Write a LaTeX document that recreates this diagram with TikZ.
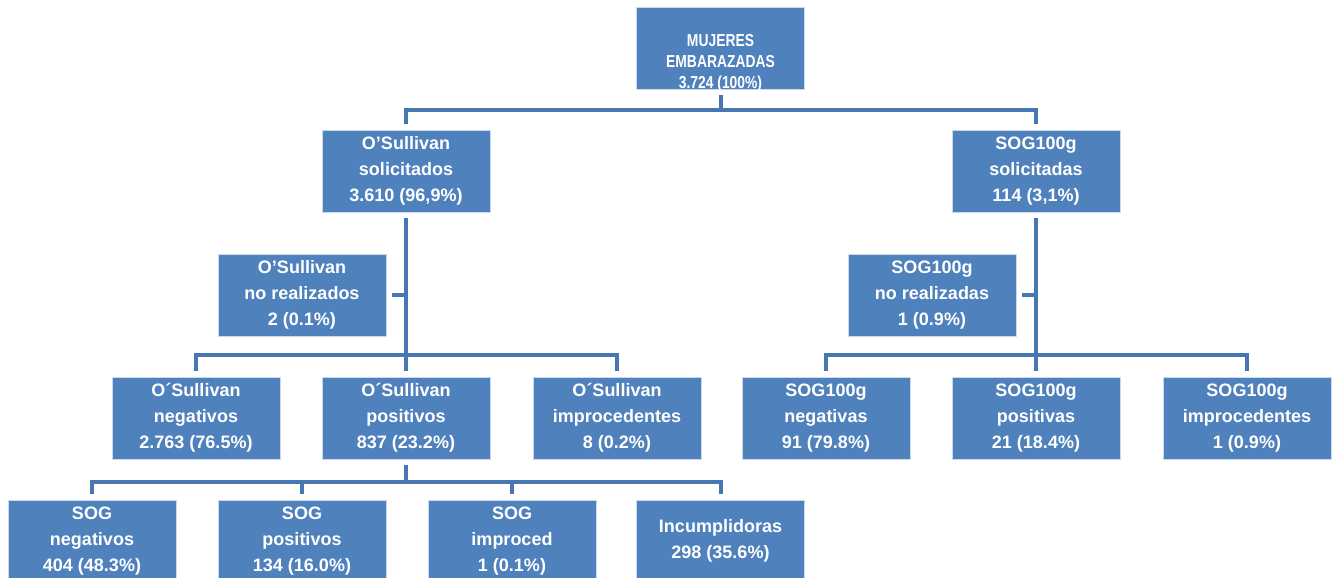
\documentclass[tikz,border=0pt]{standalone}
\usepackage{fontspec}
\setmainfont{Liberation Sans}
\usepackage{xcolor}
\usetikzlibrary{positioning,calc}

\definecolor{boxblue}{HTML}{4F81BD}
\definecolor{lineblue}{HTML}{4677B3}
\newcommand{\boxfont}{\bfseries\fontsize{13.5}{19.5}\selectfont}
\newcommand{\topfont}{\bfseries\fontsize{13}{15.5}\selectfont}

\tikzset{
  box/.style={rectangle, fill=boxblue, draw=white!70!boxblue, line width=0.5pt,
    minimum width=126pt, minimum height=61.5pt, inner sep=2pt,
    text=white, align=center, font=\boxfont},
  conn/.style={draw=lineblue, line width=3pt, line join=miter},
  gap/.style={shorten <=4pt, shorten >=4pt}
}

\begin{document}
\begin{tikzpicture}[x=0.75pt, y=-0.75pt]
  \useasboundingbox (0,0) rectangle (1336,578);
  \clip (0,0) rectangle (1336,578);

  % Level 0
  \node[box] (muj) at (720.5,48) {\raisebox{-14.5pt}[0pt][0pt]{\topfont
    \scalebox{0.8}[1]{\begin{tabular}{@{}c@{}}MUJERES\\EMBARAZADAS\\3.724 (100\%)\end{tabular}}}};

  % Level 1
  \node[box] (ossol) at (406,171) {O’Sullivan\\solicitados\\3.610 (96,9\%)};
  \node[box] (sgsol) at (1036,171) {SOG100g\\solicitadas\\114 (3,1\%)};

  % Not done
  \node[box] (osnr) at (302,295) {O’Sullivan\\no realizados\\2 (0.1\%)};
  \node[box] (sgnr) at (932,295) {SOG100g\\no realizadas\\1 (0.9\%)};

  % Level 2
  \node[box] (osneg) at (196,418) {O´Sullivan\\negativos\\2.763 (76.5\%)};
  \node[box] (ospos) at (406,418) {O´Sullivan\\positivos\\837 (23.2\%)};
  \node[box] (osimp) at (617,418) {O´Sullivan\\improcedentes\\8 (0.2\%)};
  \node[box] (sgneg) at (826,418) {SOG100g\\negativas\\91 (79.8\%)};
  \node[box] (sgpos) at (1036,418) {SOG100g\\positivas\\21 (18.4\%)};
  \node[box] (sgimp) at (1247,418) {SOG100g\\improcedentes\\1 (0.9\%)};

  % Level 3
  \node[box] (sogneg) at (92,541) {SOG\\negativos\\404 (48.3\%)};
  \node[box] (sogpos) at (302,541) {SOG\\positivos\\134 (16.0\%)};
  \node[box] (sogimp) at (512,541) {SOG\\improced\\1 (0.1\%)};
  \node[box] (incum) at (720.5,541) {Incumplidoras\\298 (35.6\%)};

  % Junctions
  \coordinate (j1) at (720.5,110);
  \coordinate (j2) at (406,355);
  \coordinate (j3) at (1036,355);
  \coordinate (j4) at (406,482);

  % Connectors
  \draw[conn, shorten <=4pt] (muj.south) -- (j1);
  \draw[conn, gap] (ossol.north) |- (j1) -| (sgsol.north);

  \draw[conn, gap] (ossol.south) -- (ospos.north);
  \draw[conn, shorten <=4pt] (osnr.east) -- (osnr.east -| ossol.south);
  \draw[conn, gap] (osneg.north) |- (j2) -| (osimp.north);

  \draw[conn, gap] (sgsol.south) -- (sgpos.north);
  \draw[conn, shorten <=4pt] (sgnr.east) -- (sgnr.east -| sgsol.south);
  \draw[conn, gap] (sgneg.north) |- (j3) -| (sgimp.north);

  \draw[conn, shorten <=4pt] (ospos.south) -- (j4);
  \draw[conn, gap] (sogneg.north) |- (j4) -| (incum.north);
  \draw[conn, shorten >=4pt] (sogpos.north |- j4) -- (sogpos.north);
  \draw[conn, shorten >=4pt] (sogimp.north |- j4) -- (sogimp.north);
\end{tikzpicture}
\end{document}
